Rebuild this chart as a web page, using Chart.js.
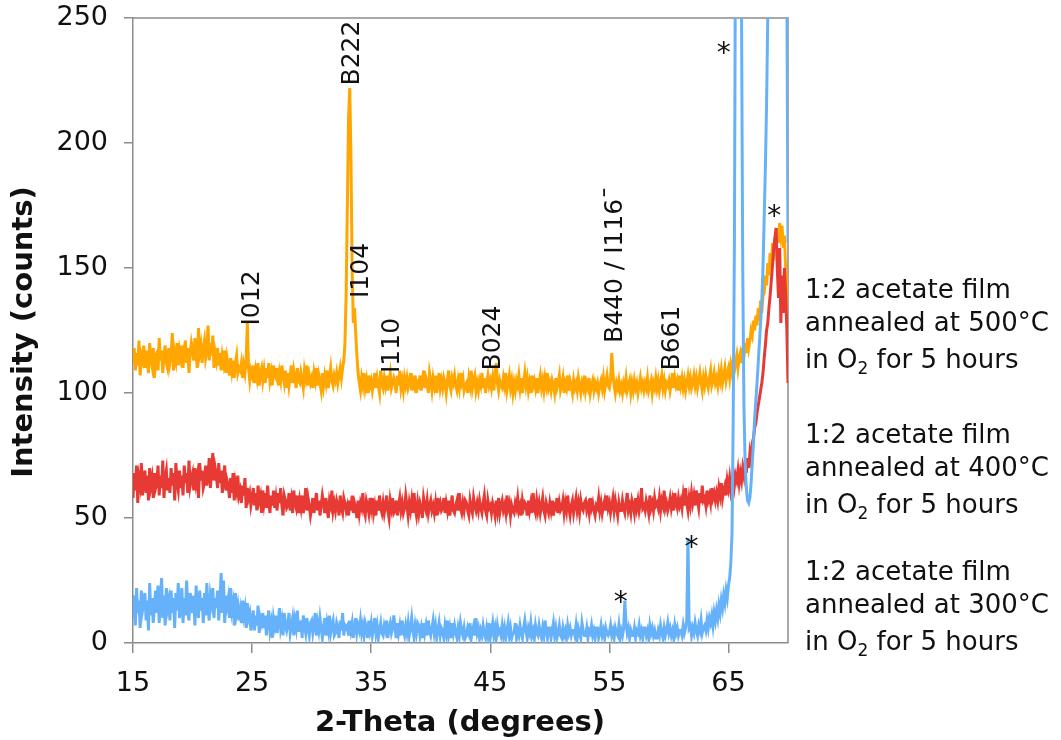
<!DOCTYPE html>
<html>
<head>
<meta charset="utf-8">
<title>XRD patterns of annealed acetate films</title>
<script src="https://cdn.jsdelivr.net/npm/chart.js@4/dist/chart.umd.min.js"></script>
<style>
  html, body { margin: 0; padding: 0; background: #ffffff; }
  #xrd { display: block; }
</style>
</head>
<body>
<canvas id="xrd" width="1061" height="740"></canvas>
<script>
// Scan grid: 2-theta from 15.0 to 70.0 degrees in 0.1 degree steps (551 points)
const twoThetaStart = 15.0;
const twoThetaStep = 0.1;

// Axis ticks
const xTicks = [15, 25, 35, 45, 55, 65];
const yTicks = [0, 50, 100, 150, 200, 250];

// Intensity (counts), one row per degree (x.0 ... x.9)
const film500 = [
  112,118,109,116,111,121,107,115,113,119, // 15
  110,117,113,108,120,114,111,118,106,115, // 16
  116,109,122,113,117,108,115,119,112,110, // 17
  118,112,115,124,109,116,113,120,111,117, // 18
  114,119,110,117,121,112,118,108,116,120, // 19
  117,113,122,115,110,126,116,119,112,118, // 20
  121,114,117,127,113,120,115,123,110,116, // 21
  113,118,111,116,109,115,112,117,108,114, // 22
  111,107,114,109,113,106,112,115,108,110, // 23
  109,112,106,111,108,113,128,110,105,109, // 24
  107,111,104,109,106,112,103,108,110,105, // 25
  109,104,110,106,112,105,108,103,111,107, // 26
  106,110,103,108,105,111,107,104,109,102, // 27
  108,103,107,111,104,109,106,102,110,105, // 28
  104,108,105,102,109,106,111,103,107,104, // 29
  106,102,108,105,110,103,107,104,101,108, // 30
  103,107,104,109,102,106,110,105,103,107, // 31
  105,108,104,107,110,106,110,113,120,140, // 32
  175,210,222,195,150,128,134,124,115,108, // 33
  104,101,106,103,108,102,105,100,107,103, // 34
  105,101,104,108,102,106,103,100,109,104, // 35
  102,106,103,107,101,105,108,102,104,106, // 36
  104,100,107,103,109,102,105,101,106,103, // 37
  106,102,104,108,101,105,103,107,100,104, // 38
  103,107,101,105,109,102,106,104,100,108, // 39
  105,101,106,103,107,100,104,108,102,105, // 40
  102,106,104,100,105,109,103,101,106,104, // 41
  107,103,101,105,102,108,104,106,101,103, // 42
  104,100,106,103,109,102,105,107,101,104, // 43
  101,105,103,108,102,106,100,104,107,103, // 44
  105,102,106,101,107,112,104,101,105,103, // 45
  102,106,103,108,101,104,107,102,105,100, // 46
  104,101,105,103,107,102,106,100,104,108, // 47
  103,106,101,104,100,107,103,105,102,106, // 48
  100,104,107,102,105,101,106,103,108,102, // 49
  104,101,105,103,100,106,102,104,107,101, // 50
  103,106,100,104,102,107,101,105,103,100, // 51
  105,102,104,101,106,103,100,104,102,107, // 52
  101,104,102,106,100,103,105,101,104,102, // 53
  104,100,103,105,102,106,101,104,107,103, // 54
  102,105,116,108,103,100,104,102,105,101, // 55
  103,100,104,102,106,101,103,105,100,104, // 56
  101,105,102,104,100,103,106,102,104,101, // 57
  104,102,106,101,103,105,100,104,102,106, // 58
  102,105,101,104,107,102,105,101,104,103, // 59
  105,101,104,108,102,106,103,105,101,107, // 60
  103,106,102,105,101,104,107,103,106,102, // 61
  104,107,103,106,102,105,108,104,101,106, // 62
  103,107,104,102,106,109,103,105,108,104, // 63
  106,103,108,105,109,104,107,110,105,108, // 64
  110,106,111,108,113,109,112,115,110,114, // 65
  116,112,118,114,120,116,122,118,121,125, // 66
  123,129,125,131,127,134,129,137,132,139, // 67
  140,147,143,152,147,156,150,160,153,162, // 68
  157,166,160,168,163,167,158,163,150,144, // 69
  133                                      // 70
];

const film400 = [
  58,68,61,71,56,66,63,72,59,65, // 15
  69,60,67,57,70,63,66,58,68,62, // 16
  64,71,59,67,62,73,58,66,69,61, // 17
  66,60,70,63,68,57,72,64,61,69, // 18
  62,67,59,71,64,68,60,73,63,66, // 19
  68,61,70,64,67,58,72,65,69,62, // 20
  64,71,63,67,74,62,69,76,65,70, // 21
  67,62,72,64,69,60,66,71,61,65, // 22
  63,58,66,60,68,57,64,61,67,59, // 23
  61,56,63,59,66,54,62,58,60,55, // 24
  58,62,55,60,53,63,57,59,52,61, // 25
  56,60,54,63,57,52,59,55,61,54, // 26
  58,53,60,56,62,55,51,59,57,54, // 27
  55,60,53,57,52,61,56,54,59,52, // 28
  57,54,59,52,56,62,53,58,55,51, // 29
  54,58,52,56,60,53,57,51,55,59, // 30
  56,52,58,54,50,57,55,61,53,56, // 31
  53,57,55,51,59,54,52,58,56,53, // 32
  55,51,57,53,59,52,56,54,50,57, // 33
  52,56,54,60,53,51,57,55,52,58, // 34
  54,58,52,55,51,57,53,59,54,52, // 35
  56,52,55,59,53,50,57,54,58,52, // 36
  53,57,51,55,58,53,56,52,54,59, // 37
  55,51,56,53,57,52,60,54,51,56, // 38
  52,56,54,50,58,55,53,57,52,55, // 39
  57,53,55,52,56,51,58,54,56,53, // 40
  54,58,52,56,53,57,51,55,59,53, // 41
  52,55,57,53,60,54,52,56,53,57, // 42
  56,53,51,57,54,52,58,55,53,56, // 43
  53,57,54,52,56,59,53,51,57,54, // 44
  55,52,56,54,51,57,53,58,52,55, // 45
  57,53,55,52,59,54,56,51,55,53, // 46
  52,56,54,58,53,55,51,57,54,56, // 47
  55,51,57,53,56,52,60,54,52,57, // 48
  53,56,52,55,58,53,51,56,54,52, // 49
  56,53,57,51,55,54,58,52,56,53, // 50
  54,57,52,56,53,59,54,51,55,57, // 51
  52,55,58,53,56,52,57,54,53,56, // 52
  57,53,55,52,58,54,56,53,51,55, // 53
  54,58,53,56,52,55,57,53,59,54, // 54
  56,52,55,58,53,57,54,51,56,53, // 55
  53,57,54,52,56,60,53,55,52,57, // 56
  55,52,58,54,57,53,56,62,54,55, // 57
  53,57,55,52,59,54,56,53,58,55, // 58
  56,54,58,53,57,55,61,54,56,53, // 59
  55,58,54,57,53,60,56,54,58,55, // 60
  57,54,59,55,62,56,53,58,55,60, // 61
  56,59,55,61,57,54,60,56,63,57, // 62
  58,55,61,57,59,56,62,58,60,57, // 63
  60,57,62,59,64,58,61,63,59,65, // 64
  62,66,61,64,68,63,67,65,69,64, // 65
  68,65,70,67,72,68,74,70,76,73, // 66
  80,82,86,88,92,95,98,101,104,108, // 67
  114,119,125,128,134,139,145,151,158,162, // 68
  166,150,138,158,128,147,132,150,140,126, // 69
  104                                     // 70
];

const film300 = [
  10,19,7,22,12,17,6,21,13,16, // 15
  20,9,17,5,24,11,18,8,15,21,  // 16
  12,23,8,16,26,10,19,7,22,14, // 17
  17,9,21,12,18,6,20,13,24,10, // 18
  15,22,8,18,11,25,14,9,20,16, // 19
  12,19,7,23,15,10,21,13,18,8, // 20
  20,11,24,14,9,19,16,22,10,18, // 21
  14,21,9,17,28,12,25,8,19,15, // 22
  18,10,22,13,16,7,20,12,15,9, // 23
  13,8,17,11,14,6,16,10,12,5,  // 24
  9,13,5,11,7,15,4,10,8,12,    // 25
  6,11,3,9,13,5,8,2,10,7,      // 26
  11,4,8,14,6,9,3,12,7,5,      // 27
  8,12,4,7,10,3,9,6,13,5,      // 28
  5,9,2,11,7,4,10,6,3,8,       // 29
  9,4,7,12,3,8,5,10,6,2,       // 30
  6,10,3,8,5,11,4,7,9,3,       // 31
  4,8,6,2,9,5,12,3,7,6,        // 32
  7,3,9,5,8,2,6,10,4,7,        // 33
  5,9,4,7,3,8,6,2,9,5,         // 34
  8,3,6,10,4,7,2,5,8,4,        // 35
  3,7,5,9,2,6,8,4,6,11,        // 36
  6,2,8,4,7,3,9,5,3,7,         // 37
  4,8,3,6,10,5,2,7,4,8,        // 38
  7,3,6,2,8,4,7,3,9,5,         // 39
  3,6,9,4,7,2,5,8,3,6,         // 40
  5,2,7,4,9,3,6,2,8,4,         // 41
  7,4,2,6,3,8,5,3,6,2,         // 42
  3,6,4,8,2,5,7,3,10,4,        // 43
  6,2,5,3,7,4,2,6,3,8,         // 44
  2,5,8,3,6,2,7,4,5,3,         // 45
  7,3,6,2,5,8,3,6,2,4,         // 46
  4,8,2,5,3,7,4,2,6,9,         // 47
  5,2,6,4,8,3,5,2,7,4,         // 48
  3,7,4,2,6,3,9,5,2,6,         // 49
  6,2,5,8,3,6,2,4,7,3,         // 50
  2,6,3,5,2,7,4,6,3,5,         // 51
  5,3,7,2,6,4,2,8,5,3,         // 52
  3,6,2,5,4,7,3,5,2,6,         // 53
  6,2,4,7,3,5,2,6,4,3,         // 54
  4,7,3,5,2,6,4,3,7,2,         // 55
  5,3,6,17,8,4,6,2,5,3,        // 56
  3,6,2,5,4,7,3,5,2,6,         // 57
  6,3,5,2,7,4,6,3,5,2,         // 58
  2,5,3,7,4,2,6,3,5,8,         // 59
  4,6,3,5,2,7,4,6,3,5,         // 60
  5,3,7,4,6,9,42,6,7,3,        // 61
  6,4,8,5,3,7,5,9,4,6,         // 62
  7,5,9,6,10,8,11,7,12,9,      // 63
  13,10,15,12,17,14,19,16,21,18, // 64
  23,26,32,44,90,160,300,600,900,700, // 65
  450,250,150,95,72,62,57,56,58,64,   // 66
  72,80,90,97,104,112,120,128,137,150, // 67
  170,190,215,250,320,500,900,1500,2500,3000, // 68
  2000,1200,800,600,450,380,330,300,280,265,  // 69
  160                                         // 70
];

// Reflection labels: text, 2-theta of label centre, intensity where the label starts
const peakNames = ['I012', 'B222', 'I104', 'I110', 'B024', 'B440 / I116\u00AF', 'B661'];
const peakTheta = [25.0, 33.4, 34.2, 36.8, 45.3, 55.5, 60.3];
const peakBase  = [127, 223, 138, 108, 109, 120, 109];

// Substrate reflections marked with an asterisk (2-theta, intensity)
const starTheta = [64.6, 68.85, 55.95, 61.9];
const starLevel = [239, 174, 19.6, 41.6];

const sampleNotes = [
  ['1:2 acetate film', 'annealed at 500\u00B0C'],
  ['1:2 acetate film', 'annealed at 400\u00B0C'],
  ['1:2 acetate film', 'annealed at 300\u00B0C']
];

const FONT = "'DejaVu Sans', Verdana, sans-serif";
const AXIS_GRAY = '#8c8c8c';
const INK = '#111111';

function toPoints(values) {
  return values.map((v, i) => ({ x: +(twoThetaStart + i * twoThetaStep).toFixed(1), y: v }));
}

const annotate = {
  id: 'annotate',
  beforeDatasetsDraw(chart) {
    const { ctx, chartArea: a } = chart;
    ctx.save();
    ctx.strokeStyle = AXIS_GRAY;
    ctx.lineWidth = 1.5;
    ctx.beginPath();
    ctx.moveTo(a.left, a.top);
    ctx.lineTo(a.right, a.top);
    ctx.lineTo(a.right, a.bottom);
    ctx.stroke();
    ctx.restore();
  },
  afterDatasetsDraw(chart) {
    const { ctx } = chart;
    const xs = chart.scales.x, ys = chart.scales.y;
    ctx.save();
    ctx.fillStyle = INK;

    // reflection labels, reading bottom to top
    ctx.font = '25px ' + FONT;
    ctx.textAlign = 'left';
    ctx.textBaseline = 'middle';
    peakNames.forEach((name, i) => {
      const px = xs.getPixelForValue(peakTheta[i]);
      const py = ys.getPixelForValue(peakBase[i]);
      ctx.save();
      ctx.translate(px, py);
      ctx.rotate(-Math.PI / 2);
      ctx.fillText(name, 0, 0);
      ctx.restore();
    });

    // asterisks
    ctx.font = '28px ' + FONT;
    ctx.textAlign = 'center';
    ctx.textBaseline = 'alphabetic';
    starTheta.forEach((t, i) => {
      const px = xs.getPixelForValue(t);
      const py = ys.getPixelForValue(starLevel[i]);
      ctx.fillText('*', px, py + 0.59 * 28);
    });

    // axis titles
    ctx.font = 'bold 29px ' + FONT;
    ctx.textAlign = 'center';
    ctx.textBaseline = 'alphabetic';
    ctx.fillText('2-Theta (degrees)', 460, 731);
    ctx.save();
    ctx.translate(24, 332);
    ctx.rotate(-Math.PI / 2);
    ctx.textBaseline = 'middle';
    ctx.fillText('Intensity (counts)', 0, 0);
    ctx.restore();

    // sample descriptions to the right of the plot
    const blockTop = [298, 443, 580];
    const left = 805;
    ctx.textAlign = 'left';
    ctx.textBaseline = 'alphabetic';
    sampleNotes.forEach((lines, i) => {
      const y0 = blockTop[i];
      ctx.font = '26px ' + FONT;
      ctx.fillText(lines[0], left, y0);
      ctx.fillText(lines[1], left, y0 + 33);
      const y2 = y0 + 70;
      let x = left;
      ctx.fillText('in O', x, y2);
      x += ctx.measureText('in O').width;
      ctx.font = '17px ' + FONT;
      ctx.fillText('2', x, y2 + 6);
      x += ctx.measureText('2').width;
      ctx.font = '26px ' + FONT;
      ctx.fillText(' for 5 hours', x, y2);
    });
    ctx.restore();
  }
};

new Chart(document.getElementById('xrd'), {
  type: 'line',
  data: {
    datasets: [
      { label: '300\u00B0C', data: toPoints(film300), borderColor: 'rgb(102,178,250)' },
      { label: '400\u00B0C', data: toPoints(film400), borderColor: 'rgb(232,58,52)' },
      { label: '500\u00B0C', data: toPoints(film500), borderColor: 'rgb(255,166,0)' }
    ]
  },
  options: {
    responsive: false,
    animation: false,
    events: [],
    layout: { padding: { left: 0, right: 273, top: 18, bottom: 0 } },
    elements: {
      point: { radius: 0 },
      line: { borderWidth: 3, tension: 0, fill: false }
    },
    plugins: { legend: { display: false }, tooltip: { enabled: false } },
    scales: {
      x: {
        type: 'linear',
        min: 15,
        max: 70,
        afterBuildTicks: s => { s.ticks = xTicks.map(v => ({ value: v })); },
        afterFit: s => { s.height = 97; s.paddingLeft = 0; s.paddingRight = 0; },
        ticks: { font: { family: FONT, size: 27 }, color: INK, padding: 15, maxRotation: 0, autoSkip: false },
        grid: { drawOnChartArea: false, drawTicks: true, tickLength: 10, color: AXIS_GRAY, lineWidth: 1.5 },
        border: { display: true, color: AXIS_GRAY, width: 1.5 }
      },
      y: {
        type: 'linear',
        min: 0,
        max: 250,
        afterBuildTicks: s => { s.ticks = yTicks.map(v => ({ value: v })); },
        afterFit: s => { s.width = 133; s.paddingTop = 0; s.paddingBottom = 0; },
        ticks: { font: { family: FONT, size: 27 }, color: INK, padding: 16, autoSkip: false },
        grid: { drawOnChartArea: false, drawTicks: true, tickLength: 9, color: AXIS_GRAY, lineWidth: 1.5 },
        border: { display: true, color: AXIS_GRAY, width: 1.5 }
      }
    }
  },
  plugins: [annotate]
});
</script>
</body>
</html>
